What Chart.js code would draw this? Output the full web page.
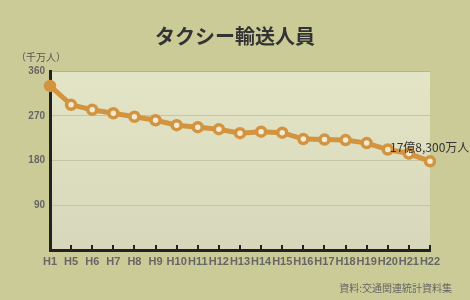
<!DOCTYPE html>
<html>
<head>
<meta charset="utf-8">
<script src="https://cdn.jsdelivr.net/npm/chart.js@4"></script>
<style>
  html, body { margin: 0; padding: 0; background: #cbcb98; }
  #wrap { width: 470px; height: 300px; position: relative; }
</style>
</head>
<body>
<div id="wrap"><canvas id="c" width="470" height="300"></canvas></div>
<script>
const years = ["H1", "H5", "H6", "H7", "H8", "H9", "H10", "H11", "H12", "H13", "H14",
  "H15", "H16", "H17", "H18", "H19", "H20", "H21", "H22"];
// 千万人
const riders = [330, 292, 282, 275, 268, 261, 251, 247, 243, 235, 238,
  236, 223, 222, 221, 215, 202, 194, 178.3];
const yTicks = [0, 90, 180, 270, 360];

const lineColor = "#d3943f";
const jpFont = "'Noto Sans CJK JP', sans-serif";

const plotBg = {
  id: "plotBg",
  beforeDraw(chart) {
    const { ctx, chartArea: a } = chart;
    const g = ctx.createLinearGradient(0, a.top, 0, a.bottom);
    g.addColorStop(0, "#e4e4c6");
    g.addColorStop(1, "#d7d7bb");
    ctx.save();
    ctx.fillStyle = g;
    ctx.fillRect(a.left, a.top, a.right - a.left, a.bottom - a.top);
    ctx.restore();
  },
};

const extras = {
  id: "extras",
  afterDatasetsDraw(chart) {
    const { ctx, chartArea: a } = chart;
    const x = chart.scales.x;
    ctx.save();
    // inward tick marks on the bottom axis
    ctx.strokeStyle = "#222";
    ctx.lineWidth = 2;
    for (let i = 1; i < years.length; i++) {
      const px = Math.round(x.getPixelForTick(i));
      ctx.beginPath();
      ctx.moveTo(px, a.bottom);
      ctx.lineTo(px, a.bottom - 5);
      ctx.stroke();
    }
    ctx.restore();
  },
  afterDraw(chart) {
    const { ctx } = chart;
    const y = chart.scales.y;
    ctx.save();
    ctx.fillStyle = "#333";
    ctx.font = "bold 20px " + jpFont;
    ctx.textAlign = "center";
    ctx.textBaseline = "middle";
    ctx.fillText("タクシー輸送人員", 235, 36);

    ctx.fillStyle = "#555";
    ctx.font = "10px " + jpFont;
    ctx.textAlign = "left";
    ctx.fillText("（千万人）", 16, 57);

    const last = riders.length - 1;
    ctx.fillStyle = "#333";
    ctx.font = "12px " + jpFont;
    ctx.textAlign = "left";
    ctx.fillText("17億8,300万人", 390, y.getPixelForValue(riders[last]) - 14);

    ctx.fillStyle = "#666";
    ctx.font = "10px " + jpFont;
    ctx.textAlign = "right";
    ctx.fillText("資料:交通関連統計資料集", 452, 288);
    ctx.restore();
  },
};

new Chart(document.getElementById("c"), {
  type: "line",
  data: {
    labels: years,
    datasets: [{
      data: riders,
      borderColor: lineColor,
      borderWidth: 5,
      pointRadius: 4.5,
      pointBorderWidth: 3.5,
      pointBorderColor: lineColor,
      pointBackgroundColor: riders.map((v, i) => (i === 0 ? lineColor : "#f2ead4")),
      tension: 0,
      clip: false,
    }],
  },
  options: {
    responsive: false,
    animation: false,
    layout: { padding: { top: 71, right: 40, left: 0, bottom: 0 } },
    plugins: { legend: { display: false }, tooltip: { enabled: false }, title: { display: false } },
    scales: {
      x: {
        offset: false,
        afterFit(s) { s.height = 50; },
        grid: { display: false, drawTicks: false },
        border: { display: true, color: "#222", width: 3 },
        ticks: {
          color: "#666",
          padding: 5,
          maxRotation: 0,
          autoSkip: false,
          font: { family: "'Liberation Sans', Arial, sans-serif", size: 11, weight: "bold" },
        },
      },
      y: {
        min: yTicks[0],
        max: yTicks[yTicks.length - 1],
        afterFit(s) { s.width = 50; },
        afterBuildTicks(s) { s.ticks = yTicks.map((v) => ({ value: v })); },
        grid: {
          drawTicks: false,
          color: (c) => (c.tick.value === 0 ? "rgba(0,0,0,0)" : c.tick.value === 360 ? "#b5b58c" : "#c6c6a6"),
          lineWidth: 1,
        },
        border: { display: true, color: "#222", width: 3 },
        ticks: {
          color: "#666",
          padding: 5,
          font: { family: "'Liberation Sans', Arial, sans-serif", size: 10, weight: "bold" },
          callback: (v) => (v === 0 ? "" : v),
        },
      },
    },
  },
  plugins: [plotBg, extras],
});
</script>
</body>
</html>
